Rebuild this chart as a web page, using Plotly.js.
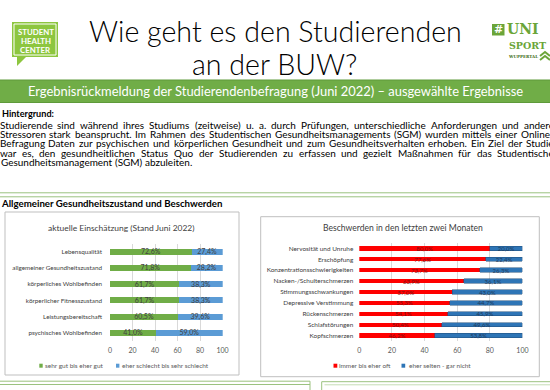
<!DOCTYPE html>
<html><head><meta charset="utf-8">
<script src="https://cdn.plot.ly/plotly-3.0.1.min.js"></script>
<style>html,body{margin:0;padding:0;background:#fff;overflow:hidden}#chart{width:550px;height:390px}</style>
</head><body><div id="chart"></div>
<script>
// ---------- data ----------
const catsLeft = ["Lebensqualität","allgemeiner Gesundheitszustand","körperliches Wohlbefinden","körperlicher Fitnesszustand","Leistungsbereitschaft","psychisches Wohlbefinden"];
const goodLeft = [72.6,71.8,61.7,61.7,60.5,41.0];
const badLeft  = [27.4,28.2,38.3,38.3,39.6,59.0];
const legendLeft = ["sehr gut bis eher gut","eher schlecht bis sehr schlecht"];
const titleLeft = "aktuelle Einschätzung (Stand Juni 2022)";

const catsRight = ["Nervosität und Unruhe","Erschöpfung","Konzentrationsschwierigkeiten","Nacken-/Schulterschmerzen","Stimmungsschwankungen","Depressive Verstimmung","Rückenschmerzen","Schlafstörungen","Kopfschmerzen"];
const oftRight    = [80.0,77.6,73.7,63.9,57.0,55.3,54.1,50.4,46.2];
const seltenRight = [20.0,22.4,26.3,36.1,43.0,44.7,45.9,49.6,53.8];
const legendRight = ["immer bis eher oft","eher selten - gar nicht"];
const titleRight = "Beschwerden in den letzten zwei Monaten";

const xTicks = [0,20,40,60,80,100];

const titleLines = ["Wie geht es den Studierenden","an der BUW?"];
const bandText = "Ergebnisrückmeldung der Studierendenbefragung (Juni 2022) – ausgewählte Ergebnisse";
const bgHead = "Hintergrund:";
const bgLines = [
 "Studierende sind während ihres Studiums (zeitweise) u. a. durch Prüfungen, unterschiedliche Anforderungen und andere",
 "Stressoren stark beansprucht. Im Rahmen des Studentischen Gesundheitsmanagements (SGM) wurden mittels einer Online-",
 "Befragung Daten zur psychischen und körperlichen Gesundheit und zum Gesundheitsverhalten erhoben. Ein Ziel der Studie",
 "war es, den gesundheitlichen Status Quo der Studierenden zu erfassen und gezielt Maßnahmen für das Studentische",
 "Gesundheitsmanagement (SGM) abzuleiten."
];
const sectionHead = "Allgemeiner Gesundheitszustand und Beschwerden";

// ---------- helpers ----------
const W=550,H=390;
const FAM='Lato';
const FONT='Lato, "Open Sans", sans-serif';
const cv=document.createElement('canvas').getContext('2d');
function tw(t,size,weight,fam){cv.font=(weight||400)+' '+size+'px '+(fam||FAM);return cv.measureText(t).width;}
function fit(t,target,weight,fam){return target/tw(t,100,weight,fam)*100;}
const PX=x=>x/W, PY=y=>1-y/H;
const ann=[], shapes=[];
function txt(t,x,y,size,o){o=o||{};
 ann.push({text:t,x:PX(x),y:PY(y),xref:'paper',yref:'paper',showarrow:false,
  xanchor:o.xa||'left',yanchor:'middle',borderpad:0,
  font:{family:o.fam?('"'+o.fam+'", '+FONT):FONT,size:size,color:o.c||'#000',weight:o.w||400}});}
function rect(x0,y0,x1,y1,fill,line,lw){shapes.push({type:'rect',xref:'paper',yref:'paper',x0:PX(x0),x1:PX(x1),y0:PY(y0),y1:PY(y1),fillcolor:fill||'rgba(0,0,0,0)',line:{color:line||'rgba(0,0,0,0)',width:lw===undefined?1:lw},layer:'below'});}
function hline(x0,x1,y,c,w){shapes.push({type:'line',xref:'paper',yref:'paper',x0:PX(x0),x1:PX(x1),y0:PY(y),y1:PY(y),line:{color:c,width:w||1}});}
function vline(x,y0,y1,c,w){shapes.push({type:'line',xref:'paper',yref:'paper',x0:PX(x),x1:PX(x),y0:PY(y0),y1:PY(y1),line:{color:c,width:w||1}});}

// ---------- header ----------
const s1=fit(titleLines[0],373,300);
txt(titleLines[0],275.5,31,s1,{xa:'center',w:300});
txt(titleLines[1],274,64,s1,{xa:'center',w:300});

// student health center logo
rect(12,22,58,57,'#8DC63F');
shapes.push({type:'path',xref:'paper',yref:'paper',path:`M ${PX(17)} ${PY(56)} L ${PX(17)} ${PY(66)} L ${PX(27)} ${PY(56)} Z`,fillcolor:'#8DC63F',line:{width:0}});
rect(14,24,56,55,null,'#ffffff',1);
['STUDENT','HEALTH','CENTER'].forEach((t,i)=>{txt(t,35.5,31.5+i*9.3,fit('STUDENT',36,700),{xa:'center',w:700,c:'#fff'});});

// uni sport logo
rect(492,24,504.5,35.5,'#6BA539');
txt('#',498.2,29.8,11,{xa:'center',w:700,c:'#fff',fam:'DejaVu Sans'});
txt('UNI',505.5,29.5,14,{w:700,c:'#6BA539',fam:'DejaVu Serif'});
txt('SPORT',508,45,9.5,{w:700,c:'#6BA539',fam:'DejaVu Serif'});
txt('WUPPERTAL',507,56.5,4,{w:700,c:'#3F6E22',fam:'DejaVu Serif'});
shapes.push({type:'path',xref:'paper',yref:'paper',path:`M ${PX(540)} ${PY(56)} L ${PX(545)} ${PY(52)} L ${PX(550)} ${PY(56)}`,line:{color:'#6BA539',width:2}});
shapes.push({type:'path',xref:'paper',yref:'paper',path:`M ${PX(540)} ${PY(60)} L ${PX(545)} ${PY(56)} L ${PX(550)} ${PY(60)}`,line:{color:'#6BA539',width:2}});

// green band
rect(-2,80,552,102.5,'#70AD47','#5E9A3A',1);
txt(bandText,275,91,fit(bandText,496),{xa:'center',c:'#fff'});

// background text
const bs=fit(bgLines[4],191);
txt(bgHead,0.5,113,fit(bgHead,52,700),{w:700});
const L=-1.5,R=553;
bgLines.forEach((line,i)=>{
 const words=line.split(' ');
 const widths=words.map(w=>tw(w,bs));
 const total=widths.reduce((a,b)=>a+b,0);
 const last=i===bgLines.length-1;
 const gap=last?tw(' ',bs):(R-L-total)/(words.length-1);
 let x=(i===4)?0:L;
 words.forEach((w,j)=>{txt(w,x,125+i*9.2,bs);x+=widths[j]+gap;});
});

hline(-2,552,192.8,'#9BC27F',1);
hline(-2,552,196.8,'#9BC27F',1);

txt(sectionHead,-0.5,203,fit(sectionHead,221,700),{w:700});

// chart boxes
rect(5,212,239,375,'#fff','#BFBFBF',1);
rect(260.7,216.7,539.3,376.7,'#fff','#BFBFBF',1);

txt(titleLeft,121.7,228.3,fit(titleLeft,147),{xa:'center',c:'#404040'});
txt(titleRight,403.3,228.3,fit(titleRight,160),{xa:'center',c:'#404040'});

// legends
const lg=fit(legendLeft[1],86.5);
rect(39.3,363.7,42.7,367.7,'#70AD47');
txt(legendLeft[0],43.5,365.7,lg,{c:'#595959'});
rect(116,363.7,119.4,367.7,'#5B9BD5');
txt(legendLeft[1],120.8,365.7,lg,{c:'#595959'});
rect(333.5,363.7,337.3,367.7,'#FF0000');
txt(legendRight[0],338.3,365.7,lg,{c:'#595959'});
rect(401.5,363.7,405.2,367.7,'#2E75B6');
txt(legendRight[1],407.5,365.7,lg,{c:'#595959'});

// bottom decoration
hline(-2,310,381.2,'#9BC27F',1);
hline(-2,310,384.5,'#9BC27F',1);
vline(310,381.2,392,'#9BC27F',1);
hline(321.7,552,381.7,'#9BC27F',1);
vline(321.7,381.7,392,'#9BC27F',1);
hline(324.5,552,384.8,'#C5DDB5',1);

// ---------- charts ----------
const catFontL=fit("allgemeiner Gesundheitszustand",90);
const catFontR=fit("Konzentrationsschwierigkeiten",86.7);
const common={type:'bar',orientation:'h',textposition:'inside',insidetextanchor:'middle',
 constraintext:'none',texttemplate:'%{x:.1f}%',hoverinfo:'skip',showlegend:false,cliponaxis:false};
const traces=[
 Object.assign({},common,{y:catsLeft,x:goodLeft,xaxis:'x',yaxis:'y',width:0.37,marker:{color:'#70AD47'},textfont:{family:FONT,size:7,color:'#404040'}}),
 Object.assign({},common,{y:catsLeft,x:badLeft,xaxis:'x',yaxis:'y',width:0.37,marker:{color:'#5B9BD5'},textfont:{family:FONT,size:7,color:'#404040'}}),
 Object.assign({},common,{y:catsRight,x:oftRight,xaxis:'x2',yaxis:'y2',width:0.4,marker:{color:'#FF0000'},textfont:{family:FONT,size:6,color:'#7A1010'}}),
 Object.assign({},common,{y:catsRight,x:seltenRight,xaxis:'x2',yaxis:'y2',width:0.4,marker:{color:'#2E75B6',line:{color:'#1F4E79',width:0.5}},textfont:{family:FONT,size:6,color:'#1F3A5A'}})
];
const xa={range:[0,100.15],tickvals:xTicks,ticksuffix:'%',showgrid:true,gridcolor:'#D9D9D9',gridwidth:1,zeroline:false,showline:false,ticks:'',
 tickfont:{family:FONT,size:7,color:'#595959'},ticklabelstandoff:4,fixedrange:true};
const ya={type:'category',autorange:'reversed',showgrid:false,ticks:'',showline:false,zeroline:false,fixedrange:true};
const layout={width:W,height:H,margin:{l:0,r:0,t:0,b:0},paper_bgcolor:'#fff',plot_bgcolor:'rgba(0,0,0,0)',
 separators:',.',barmode:'stack',showlegend:false,
 xaxis:Object.assign({},xa,{domain:[PX(110),PX(222.7)],anchor:'y'}),
 yaxis:Object.assign({},ya,{domain:[PY(340.8),PY(243.6)],anchor:'x',tickfont:{family:FONT,size:catFontL,color:'#404040'},ticklabelstandoff:7}),
 xaxis2:Object.assign({},xa,{domain:[PX(359.3),PX(522.7)],anchor:'y2'}),
 yaxis2:Object.assign({},ya,{domain:[PY(341.1),PY(242.9)],anchor:'x2',tickfont:{family:FONT,size:catFontR,color:'#404040'},ticklabelstandoff:5}),
 annotations:ann,shapes:shapes};
Plotly.newPlot('chart',traces,layout,{staticPlot:true,displayModeBar:false});
</script></body></html>
